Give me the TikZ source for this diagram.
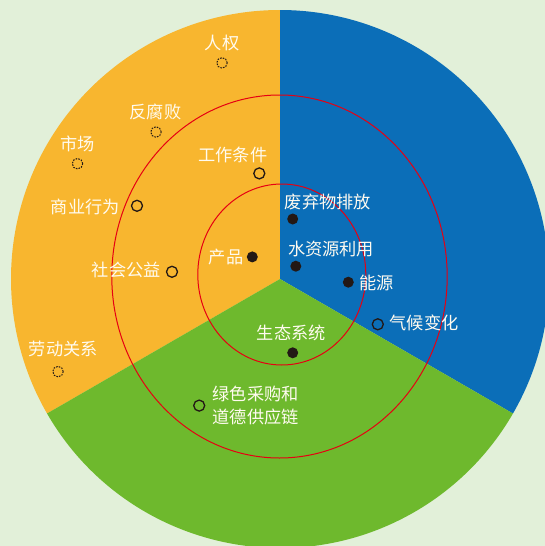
\documentclass[tikz,border=0pt]{standalone}
\usepackage{fontspec}
\newfontfamily\cjk{Noto Sans CJK SC}
\definecolor{bgc}{HTML}{E2F0D9}
\definecolor{orsec}{HTML}{F8B62F}
\definecolor{blsec}{HTML}{0B6EB8}
\definecolor{grsec}{HTML}{6EB92D}
\definecolor{redl}{HTML}{E60012}
\definecolor{dotc}{HTML}{231815}
\definecolor{txtc}{HTML}{FFFBF0}
\begin{document}
\begin{tikzpicture}[x=1pt,y=1pt,
  lbl/.style={font=\cjk\fontsize{17.2}{21}\selectfont, text=txtc, inner sep=0pt},
  mdash/.style={circle, draw=dotc, dashed, dash pattern=on 1.6pt off 1.2pt, line width=1pt, minimum size=10.5pt, inner sep=0pt},
  mopen/.style={circle, draw=dotc, line width=1.3pt, minimum size=11pt, inner sep=0pt},
  mfull/.style={circle, fill=dotc, minimum size=11pt, inner sep=0pt},
  ring/.style={draw=redl, line width=1pt}]
\fill[bgc] (0,0) rectangle (545,-546);
\useasboundingbox (0,0) rectangle (545,-546);
\begin{scope}
\clip (0,0) rectangle (545,-546);
\coordinate (C) at (280,-279);
\fill[orsec] (C) -- ++(90:269) arc[start angle=90,end angle=210,radius=269] -- cycle;
\fill[blsec] (C) -- ++(-30:269) arc[start angle=-30,end angle=90,radius=269] -- cycle;
\fill[grsec] (C) -- ++(210:269) arc[start angle=210,end angle=330,radius=269] -- cycle;
\end{scope}
\draw[ring] (279.5,-276.5) ellipse[x radius=167.7, y radius=181.5];
\draw[ring] (281.8,-274.5) ellipse[x radius=84, y radius=90.5];
% labels
\node[lbl] (t1) at (222,-43.4) {人权};
\node[mdash] (m1) at (222,-62.9) {};
\node[lbl] (t2) at (155.5,-112.3) {反腐败};
\node[mdash] (m2) at (156,-132) {};
\node[lbl] (t3) at (77.2,-144) {市场};
\node[mdash] (m3) at (77.5,-163.7) {};
\node[lbl] (t4) at (85.2,-206.5) {商业行为};
\node[mopen] (m4) at (137,-205.8) {};
\node[lbl] (t5) at (232.9,-155) {工作条件};
\node[mopen] (m5) at (259.3,-173.4) {};
\node[lbl] (t6) at (126.2,-270.4) {社会公益};
\node[mopen] (m6) at (172,-271.8) {};
\node[lbl] (t7) at (226,-257.2) {产品};
\node[mfull] (m7) at (252.3,-256.9) {};
\node[lbl] (t8) at (327.8,-201.6) {废弃物排放};
\node[mfull] (m8) at (292.7,-219) {};
\node[lbl] (t9) at (331,-248.9) {水资源利用};
\node[mfull] (m9) at (295.8,-266.2) {};
\node[lbl] (t10) at (376.4,-283.3) {能源};
\node[mfull] (m10) at (348.3,-282.2) {};
\node[lbl] (t11) at (424,-323.3) {气候变化};
\node[mopen] (m11) at (377.8,-324.3) {};
\node[lbl] (t12) at (291.3,-332.6) {生态系统};
\node[mfull] (m12) at (292.7,-352.8) {};
\node[lbl] (t13) at (63.3,-348.6) {劳动关系};
\node[mdash] (m13) at (58,-371.6) {};
\node[lbl, align=left, anchor=west, font=\cjk\fontsize{17.2}{23.5}\selectfont] (t14) at (212.5,-405.3) {绿色采购和\\道德供应链};
\node[mopen] (m14) at (199.2,-405.6) {};
\end{tikzpicture}
\end{document}
